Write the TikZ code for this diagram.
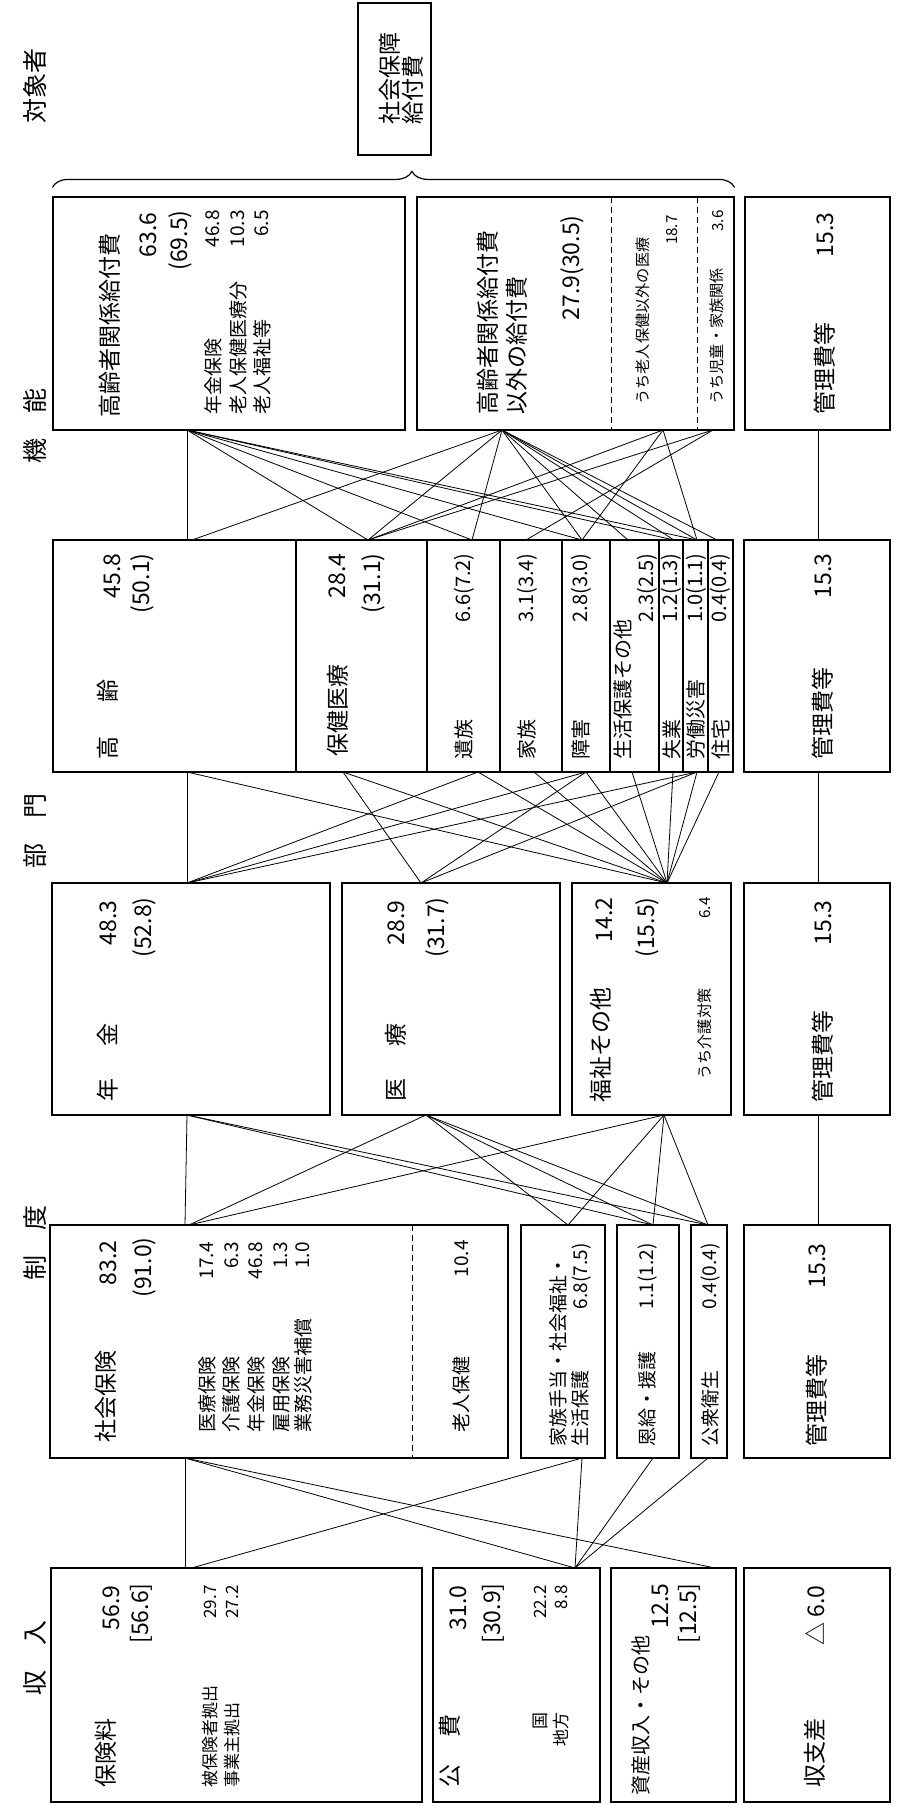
\documentclass[tikz,border=0pt]{standalone}
\usepackage{fontspec}
\setmainfont{Noto Sans CJK JP}
\usetikzlibrary{fit,decorations.pathreplacing}

\begin{document}
\begin{tikzpicture}[x=0.5pt, y=-0.5pt,
    box/.style={draw, line width=0.6pt, inner sep=0pt},
    txt/.style={rotate=90, inner sep=0pt, font=\fontsize{11.5}{13}\selectfont},
    cell/.style={txt, font=\fontsize{10}{12}\selectfont},
    sub/.style={txt, font=\fontsize{9.5}{11}\selectfont},
    small/.style={txt, font=\fontsize{8.5}{10}\selectfont},
    tiny/.style={txt, font=\fontsize{7.6}{9}\selectfont},
    head/.style={txt, font=\fontsize{12.5}{14}\selectfont},
    wire/.style={line width=0.4pt},
    split/.style={line width=0.5pt, dash pattern=on 3pt off 2pt}]
    \useasboundingbox (0,0) rectangle (898,1805);

    % column heads
    \node[head] (head target) at (35,86) {対象者};
    \node[head] (head function) at (35,426) {機\hspace{1em}能};
    \node[head] (head sector) at (35,831) {部\hspace{1em}門};
    \node[head] (head system) at (35,1243) {制\hspace{1em}度};
    \node[head] (head income) at (35,1658) {収\hspace{1em}入};

    % total
    \node[box, fit={(358,3) (431,155)}] (total) {};
    \node[txt, anchor=west] (total 1) at (390,125) {社会保障};
    \node[txt, anchor=west] (total 2) at (413,125) {給付費};

    % target
    \node[box, fit={(53,197) (405,430)}] (elderly) {};
    \node[box, fit={(417,197) (734,430)}] (non elderly) {};
    \node[box, fit={(745,197) (890,430)}] (admin 1) {};
    \draw[decorate, decoration={brace, amplitude=8pt, aspect=0.527}, line width=0.6pt]
        ([yshift=4.5pt]elderly.north west) -- ([yshift=4.5pt]non elderly.north east);
    \draw[split] (611.7,197) -- (611.7,430);
    \draw[split] (697.7,197) -- (697.7,430);
    \node[txt, anchor=west] (elderly name) at (110,418) {高齢者関係給付費};
    \node[txt, anchor=east] (elderly value) at (148,212) {63.6};
    \node[txt, anchor=east] (elderly share) at (180,210) {(69.5)};
    \node[sub, anchor=west] (elderly a) at (213,415) {年金保険};
    \node[sub, anchor=east] (elderly a value) at (213,210) {46.8};
    \node[sub, anchor=west] (elderly b) at (238,415) {老人保健医療分};
    \node[sub, anchor=east] (elderly b value) at (238,210) {10.3};
    \node[sub, anchor=west] (elderly c) at (262,415) {老人福祉等};
    \node[sub, anchor=east] (elderly c value) at (262,210) {6.5};
    \node[txt, anchor=west] (non elderly name 1) at (488,415) {高齢者関係給付費};
    \node[txt, anchor=west] (non elderly name 2) at (517,415) {以外の給付費};
    \node[txt, anchor=east] (non elderly value) at (572,215) {27.9(30.5)};
    \node[tiny, anchor=west] (medical part) at (643,405) {うち老人保健以外の医療};
    \node[tiny, anchor=east] (medical part value) at (672,215) {18.7};
    \node[tiny, anchor=west] (child part) at (717,405) {うち児童・家族関係};
    \node[tiny, anchor=east] (child part value) at (718,210) {3.6};
    \node[txt, anchor=west] (admin 1 name) at (825,415) {管理費等};
    \node[txt, anchor=east] (admin 1 value) at (825,212) {15.3};

    % function
    \node[box, fit={(53,540) (296,772)}] (old age) {};
    \node[box, fit={(296,540) (427,772)}] (health) {};
    \node[box, fit={(427,540) (500,772)}] (survivors) {};
    \node[box, fit={(500,540) (562,772)}] (family) {};
    \node[box, fit={(562,540) (610,772)}] (disability) {};
    \node[box, fit={(610,540) (659,772)}] (assistance) {};
    \node[box, fit={(659,540) (683,772)}] (unemployment) {};
    \node[box, fit={(683,540) (708,772)}] (injury) {};
    \node[box, fit={(708,540) (733,772)}] (housing) {};
    \node[box, fit={(744,540) (890,772)}] (admin 2) {};
    \node[txt, anchor=west] (old age name) at (108,760) {高\hspace{1.5em}齢};
    \node[txt, anchor=east] (old age value) at (112,553) {45.8};
    \node[txt, anchor=east] (old age share) at (142,553) {(50.1)};
    \node[txt, anchor=west] (health name) at (338,757) {保健医療};
    \node[txt, anchor=east] (health value) at (337,553) {28.4};
    \node[txt, anchor=east] (health share) at (373,553) {(31.1)};
    \node[cell, anchor=west] (survivors name) at (464,760) {遺族};
    \node[cell, anchor=east] (survivors value) at (464,553) {6.6(7.2)};
    \node[cell, anchor=west] (family name) at (527,760) {家族};
    \node[cell, anchor=east] (family value) at (527,553) {3.1(3.4)};
    \node[cell, anchor=west] (disability name) at (581,760) {障害};
    \node[cell, anchor=east] (disability value) at (581,553) {2.8(3.0)};
    \node[cell, anchor=west] (assistance name) at (623,760) {生活保護その他};
    \node[cell, anchor=east] (assistance value) at (647,553) {2.3(2.5)};
    \node[cell, anchor=west] (unemployment name) at (671.5,760) {失業};
    \node[cell, anchor=east] (unemployment value) at (671.5,553) {1.2(1.3)};
    \node[cell, anchor=west] (injury name) at (696,760) {労働災害};
    \node[cell, anchor=east] (injury value) at (696,553) {1.0(1.1)};
    \node[cell, anchor=west] (housing name) at (720.5,760) {住宅};
    \node[cell, anchor=east] (housing value) at (720.5,553) {0.4(0.4)};
    \node[txt, anchor=west] (admin 2 name) at (823,760) {管理費等};
    \node[txt, anchor=east] (admin 2 value) at (823,553) {15.3};

    % sector
    \node[box, fit={(52,883) (330,1115)}] (pension) {};
    \node[box, fit={(342,883) (560,1115)}] (medical) {};
    \node[box, fit={(572,883) (731,1115)}] (welfare) {};
    \node[box, fit={(744,883) (890,1115)}] (admin 3) {};
    \node[txt, anchor=west] (pension name) at (108,1102) {年\hspace{1.4em}金};
    \node[txt, anchor=east] (pension value) at (108,900) {48.3};
    \node[txt, anchor=east] (pension share) at (144,897) {(52.8)};
    \node[txt, anchor=west] (medical name) at (396,1102) {医\hspace{1.4em}療};
    \node[txt, anchor=east] (medical value) at (396,900) {28.9};
    \node[txt, anchor=east] (medical share) at (437,897) {(31.7)};
    \node[txt, anchor=west] (welfare name) at (601,1103) {福祉その他};
    \node[txt, anchor=east] (welfare value) at (604,897) {14.2};
    \node[txt, anchor=east] (welfare share) at (647.6,897) {(15.5)};
    \node[tiny, anchor=west] (care part) at (705,1080) {うち介護対策};
    \node[tiny, anchor=east] (care part value) at (705,897) {6.4};
    \node[txt, anchor=west] (admin 3 name) at (823,1103) {管理費等};
    \node[txt, anchor=east] (admin 3 value) at (823,900) {15.3};

    % system
    \node[box, fit={(50,1225) (508,1458)}] (insurance) {};
    \node[box, fit={(521,1225) (605,1458)}] (allowance) {};
    \node[box, fit={(617,1225) (679,1458)}] (veterans) {};
    \node[box, fit={(691,1225) (727,1458)}] (public health) {};
    \node[box, fit={(744,1225) (890,1458)}] (admin 4) {};
    \draw[split] (412,1225) -- (412,1458);
    \node[txt, anchor=west] (insurance name) at (106,1443) {社会保険};
    \node[txt, anchor=east] (insurance value) at (108,1240) {83.2};
    \node[txt, anchor=east] (insurance share) at (144,1237) {(91.0)};
    \node[sub, anchor=west] (insurance a) at (207,1433) {医療保険};
    \node[sub, anchor=east] (insurance a value) at (207,1242) {17.4};
    \node[sub, anchor=west] (insurance b) at (231.6,1433) {介護保険};
    \node[sub, anchor=east] (insurance b value) at (231.6,1242) {6.3};
    \node[sub, anchor=west] (insurance c) at (256,1433) {年金保険};
    \node[sub, anchor=east] (insurance c value) at (256,1242) {46.8};
    \node[sub, anchor=west] (insurance d) at (281,1433) {雇用保険};
    \node[sub, anchor=east] (insurance d value) at (281,1242) {1.3};
    \node[sub, anchor=west] (insurance e) at (303,1433) {業務災害補償};
    \node[sub, anchor=east] (insurance e value) at (303,1242) {1.0};
    \node[sub, anchor=west] (aged health) at (461.5,1433) {老人保健};
    \node[sub, anchor=east] (aged health value) at (461.5,1240) {10.4};
    \node[sub, anchor=west] (allowance name 1) at (558,1447) {家族手当・社会福祉・};
    \node[sub, anchor=west] (allowance name 2) at (580,1447) {生活保護};
    \node[sub, anchor=east] (allowance value) at (582,1243) {6.8(7.5)};
    \node[sub, anchor=west] (veterans name) at (647.6,1447) {恩給・援護};
    \node[sub, anchor=east] (veterans value) at (647.6,1243) {1.1(1.2)};
    \node[sub, anchor=west] (public health name) at (710.5,1447) {公衆衛生};
    \node[sub, anchor=east] (public health value) at (710.5,1243) {0.4(0.4)};
    \node[txt, anchor=west] (admin 4 name) at (817,1447) {管理費等};
    \node[txt, anchor=east] (admin 4 value) at (817,1243) {15.3};

    % income
    \node[box, fit={(51,1568) (422,1802)}] (premium) {};
    \node[box, fit={(433,1568) (600,1802)}] (tax) {};
    \node[box, fit={(611,1568) (736,1802)}] (assets) {};
    \node[box, fit={(744,1568) (890,1802)}] (balance) {};
    \node[txt, anchor=west] (premium name) at (106,1788) {保険料};
    \node[txt, anchor=east] (premium value) at (111,1585) {56.9};
    \node[txt, anchor=east] (premium prev) at (141,1583) {[56.6]};
    \node[small, anchor=west] (premium a) at (210,1788) {被保険者拠出};
    \node[small, anchor=east] (premium a value) at (210,1585) {29.7};
    \node[small, anchor=west] (premium b) at (232,1788) {事業主拠出};
    \node[small, anchor=east] (premium b value) at (232,1585) {27.2};
    \node[txt, anchor=west] (tax name) at (450,1788) {公\hspace{1.2em}費};
    \node[txt, anchor=east] (tax value) at (458,1585) {31.0};
    \node[txt, anchor=east] (tax prev) at (493,1583) {[30.9]};
    \node[small, anchor=east] (tax a) at (540,1712) {国};
    \node[small, anchor=east] (tax a value) at (540,1585) {22.2};
    \node[small, anchor=east] (tax b) at (561,1712) {地方};
    \node[small, anchor=east] (tax b value) at (561,1585) {8.8};
    \node[cell, anchor=west] (assets name) at (641,1796) {資産収入・その他};
    \node[txt, anchor=east] (assets value) at (660,1583) {12.5};
    \node[txt, anchor=east] (assets prev) at (689,1583) {[12.5]};
    \node[txt, anchor=west] (balance name) at (815,1788) {収支差};
    \node[txt, anchor=east] (balance value) at (815,1585) {△ 6.0};

    % ports
    \coordinate (elderly port) at (187,430);
    \coordinate (non elderly port) at (502,430);
    \coordinate (medical part port) at (663,430);
    \coordinate (child part port) at (713,430);
    \coordinate (admin 1 port) at (818,430);
    \coordinate (old age top) at (187,540);
    \coordinate (old age top 2) at (192,540);
    \coordinate (health top) at (368,540);
    \coordinate (survivors top) at (472,540);
    \coordinate (family top) at (526,540);
    \coordinate (disability top) at (582,540);
    \coordinate (assistance top) at (628,540);
    \coordinate (unemployment top) at (674,540);
    \coordinate (injury top) at (697,540);
    \coordinate (housing top) at (717,540);
    \coordinate (admin 2 top) at (818,540);
    \coordinate (old age bottom) at (187,772);
    \coordinate (health bottom) at (343,772);
    \coordinate (survivors bottom) at (478,772);
    \coordinate (family bottom) at (534,772);
    \coordinate (disability bottom) at (586,772);
    \coordinate (assistance bottom) at (632,772);
    \coordinate (unemployment bottom) at (673,772);
    \coordinate (injury bottom) at (697,772);
    \coordinate (housing bottom) at (719,772);
    \coordinate (admin 2 bottom) at (818,772);
    \coordinate (pension top) at (187,883);
    \coordinate (medical top) at (421,883);
    \coordinate (welfare top) at (667,883);
    \coordinate (admin 3 top) at (818,883);
    \coordinate (pension bottom) at (187,1115);
    \coordinate (medical bottom) at (426,1115);
    \coordinate (welfare bottom) at (664,1115);
    \coordinate (admin 3 bottom) at (818,1115);
    \coordinate (insurance top) at (185,1225);
    \coordinate (insurance top 2) at (189,1225);
    \coordinate (allowance top) at (568,1225);
    \coordinate (veterans top) at (653,1225);
    \coordinate (public health top) at (708,1225);
    \coordinate (admin 4 top) at (818,1225);
    \coordinate (insurance bottom) at (185,1458);
    \coordinate (allowance bottom) at (582,1458);
    \coordinate (veterans bottom) at (653,1458);
    \coordinate (public health bottom) at (708,1458);
    \coordinate (premium top) at (185,1568);
    \coordinate (premium top 2) at (191.5,1568);
    \coordinate (tax top) at (575,1568);
    \coordinate (assets top) at (715,1568);

    % target -- function
    \draw[wire] (elderly port) -- (old age top);
    \draw[wire] (elderly port) -- (health top);
    \draw[wire] (elderly port) -- (survivors top);
    \draw[wire] (elderly port) -- (disability top);
    \draw[wire] (elderly port) -- (unemployment top);
    \draw[wire] (elderly port) -- (injury top);
    \draw[wire] (non elderly port) -- (old age top 2);
    \draw[wire] (non elderly port) -- (health top);
    \draw[wire] (non elderly port) -- (survivors top);
    \draw[wire] (non elderly port) -- (disability top);
    \draw[wire] (non elderly port) -- (assistance top);
    \draw[wire] (non elderly port) -- (unemployment top);
    \draw[wire] (non elderly port) -- (injury top);
    \draw[wire] (non elderly port) -- (housing top);
    \draw[wire] (medical part port) -- (health top);
    \draw[wire] (medical part port) -- (disability top);
    \draw[wire] (medical part port) -- (injury top);
    \draw[wire] (child part port) -- (family top);
    \draw[wire] (child part port) -- (health top);
    \draw[wire] (admin 1 port) -- (admin 2 top);

    % function -- sector
    \draw[wire] (old age bottom) -- (pension top);
    \draw[wire] (old age bottom) -- (welfare top);
    \draw[wire] (health bottom) -- (medical top);
    \draw[wire] (health bottom) -- (welfare top);
    \draw[wire] (survivors bottom) -- (pension top);
    \draw[wire] (survivors bottom) -- (welfare top);
    \draw[wire] (family bottom) -- (welfare top);
    \draw[wire] (disability bottom) -- (pension top);
    \draw[wire] (disability bottom) -- (medical top);
    \draw[wire] (disability bottom) -- (welfare top);
    \draw[wire] (assistance bottom) -- (welfare top);
    \draw[wire] (unemployment bottom) -- (welfare top);
    \draw[wire] (injury bottom) -- (pension top);
    \draw[wire] (injury bottom) -- (medical top);
    \draw[wire] (injury bottom) -- (welfare top);
    \draw[wire] (housing bottom) -- (welfare top);
    \draw[wire] (admin 2 bottom) -- (admin 3 top);

    % sector -- system
    \draw[wire] (pension bottom) -- (insurance top);
    \draw[wire] (pension bottom) -- (veterans top);
    \draw[wire] (pension bottom) -- (public health top);
    \draw[wire] (medical bottom) -- (insurance top 2);
    \draw[wire] (medical bottom) -- (allowance top);
    \draw[wire] (medical bottom) -- (veterans top);
    \draw[wire] (medical bottom) -- (public health top);
    \draw[wire] (welfare bottom) -- (insurance top 2);
    \draw[wire] (welfare bottom) -- (allowance top);
    \draw[wire] (welfare bottom) -- (veterans top);
    \draw[wire] (welfare bottom) -- (public health top);
    \draw[wire] (admin 3 bottom) -- (admin 4 top);

    % system -- income
    \draw[wire] (insurance bottom) -- (premium top);
    \draw[wire] (insurance bottom) -- (tax top);
    \draw[wire] (insurance bottom) -- (assets top);
    \draw[wire] (allowance bottom) -- (premium top 2);
    \draw[wire] (allowance bottom) -- (tax top);
    \draw[wire] (veterans bottom) -- (tax top);
    \draw[wire] (public health bottom) -- (tax top);
\end{tikzpicture}
\end{document}
